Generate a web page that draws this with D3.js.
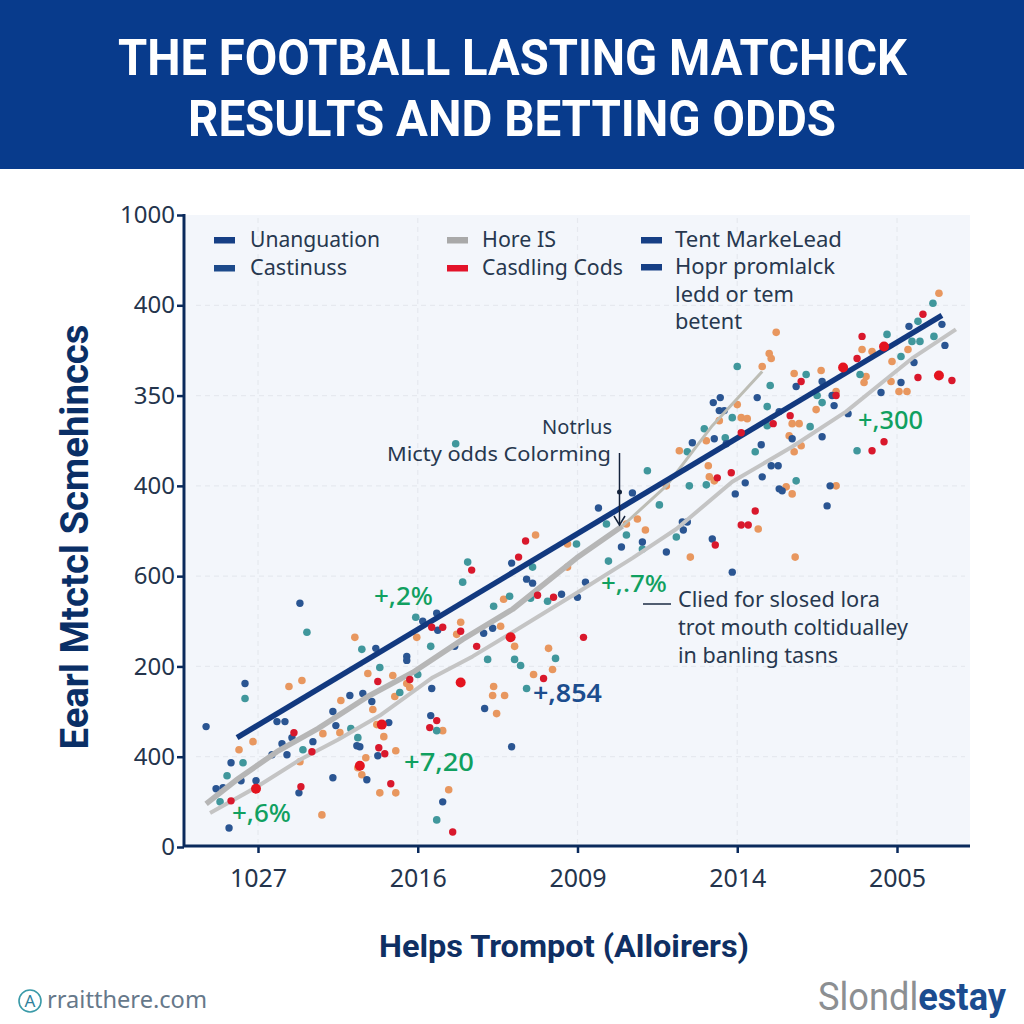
<!DOCTYPE html>
<html><head><meta charset="utf-8">
<script src="https://cdn.jsdelivr.net/npm/d3@7/dist/d3.min.js"></script>
<style>html,body{margin:0;padding:0;background:#fff}svg{display:block}</style>
</head><body><svg id="c" width="1024" height="1024"></svg>
<script>
const xTickLabels=["1027","2016","2009","2014","2005"];
const yTickLabels=["0","400","200","600","400","350","400","1000"];
const titleLines=["THE FOOTBALL LASTING MATCHICK","RESULTS AND BETTING ODDS"];
const yTitle="Eearl Mtctcl Scmehinccs";
const xTitle="Helps Trompot (Alloirers)";
const legendNames=["Unanguation","Castinuss","Hore IS","Casdling Cods","Tent MarkeLead","Hopr promlalck"];
const bluePoints=[[-52,120],[42,243],[-13,163],[19,125],[27,125],[-27,84],[-42,58],[-35,59],[-17,66],[-2,66],[-29,19],[41,54],[75,69],[24,103],[34,109],[55,105],[14,92],[29,92],[92,151],[105,153],[114,145],[75,135],[78,121],[99,101],[102,100],[120,91],[109,67],[131,124],[149,190],[149,186],[118,198],[165,225],[179,233],[180,216],[197,200],[226,213],[235,218],[275,263],[269,267],[304,252],[320,249],[174,158],[173,131],[227,138],[254,100],[185,45],[254,283],[475,274],[455,307],[409,294],[426,316],[385,304],[364,299],[328,264],[688,500],[685,521],[657,483],[644,463],[624,453],[591,432],[577,440],[565,409],[535,407],[504,401],[514,380],[521,380],[505,369],[488,363],[478,352],[522,357],[525,355],[570,340],[573,360],[425,324],[430,324],[375,353],[341,338],[500,448],[456,443],[462,435],[467,435],[463,448],[435,403],[457,407],[469,402],[522,434],[565,464],[575,450],[652,519],[539,459]];
const tealPoints=[[49,214],[-13,148],[-15,84],[-31,71],[45,97],[93,118],[100,109],[104,197],[122,179],[158,229],[173,200],[205,264],[210,284],[142,154],[160,172],[236,240],[252,250],[275,279],[273,248],[290,245],[298,188],[263,181],[257,187],[230,187],[269,158],[179,116],[179,27],[-38,45],[319,302],[198,402],[351,285],[369,311],[385,297],[419,309],[676,542],[661,524],[655,504],[663,504],[677,509],[630,511],[644,489],[603,471],[600,395],[565,443],[553,419],[510,420],[475,428],[447,417],[430,394],[468,408],[498,394],[480,479],[549,471],[513,460],[510,439],[390,375],[402,341],[449,361],[432,360],[539,365],[349,322],[560,450]];
const orangePoints=[[-5,105],[-19,97],[31,160],[44,166],[97,209],[83,146],[65,113],[82,114],[42,85],[64,32],[110,173],[135,171],[137,150],[152,159],[149,163],[159,209],[203,224],[199,212],[243,220],[246,247],[257,200],[291,198],[295,177],[276,172],[236,160],[235,151],[247,151],[239,133],[191,57],[122,54],[138,54],[126,110],[138,96],[108,89],[100,79],[104,72],[115,137],[119,122],[185,116],[310,279],[278,311],[310,302],[433,289],[538,289],[388,316],[501,317],[682,552],[635,484],[634,464],[642,454],[650,454],[651,496],[609,469],[607,463],[605,496],[615,494],[564,475],[537,472],[519,513],[514,487],[512,492],[505,479],[480,441],[484,428],[490,427],[462,425],[422,395],[449,405],[451,380],[452,369],[457,365],[535,422],[542,422],[532,410],[544,400],[537,394],[559,436],[579,454],[529,359],[535,352],[579,360],[380,327],[369,322],[409,360]];
const redPoints=[[36,114],[54,95],[43,60],[-27,46],[120,165],[152,167],[203,215],[219,200],[286,168],[214,276],[261,289],[268,305],[280,251],[296,249],[179,126],[172,119],[121,99],[127,93],[133,63],[195,15],[185,219],[174,219],[458,301],[326,209],[666,531],[605,509],[600,487],[661,468],[695,465],[627,404],[615,395],[484,413],[533,430],[516,422],[544,464],[579,450],[474,373],[460,368],[498,335],[484,321],[491,321]];
const bigRedPoints=[[-2,58],[203,164],[253,209],[124,122],[102,81],[627,499],[586,478],[682,470]];
const navyLine=[[-21,109],[685,530]];
const grayThick=[[-52,43],[-20,68],[19,95],[60,118],[110,150],[155,174],[205,207],[255,237],[319,288],[365,320]];
const grayThin=[[365,320],[409,360],[455,420],[505,474]];
const grayLower=[[-48,34],[-1,60],[42,87],[80,107],[122,131],[175,169],[215,190],[255,214],[322,255],[375,288],[419,317],[475,364],[535,399],[589,434],[635,471],[655,487],[699,516]];

const svg=d3.select("#c");
const F='"Noto Sans",sans-serif', N='"Liberation Sans Narrow","Roboto",sans-serif';
const x=d3.scaleLinear().domain([0,640]).range([258,897]);
const y=d3.scaleLinear().domain([0,630]).range([847,215]);
function T(px,py,s,o={}){
  const t=svg.append("text").attr("x",px).attr("y",py).text(s)
   .attr("font-family",o.font||F).attr("font-size",o.size||21).attr("font-weight",o.weight||400)
   .attr("fill",o.fill||"#27384f").attr("text-anchor",o.anchor||"start");
  if(o.w)t.attr("textLength",o.w).attr("lengthAdjust","spacingAndGlyphs");
  if(o.tr)t.attr("transform",o.tr);
  return t;
}
// header
svg.append("rect").attr("width",1024).attr("height",169).attr("fill","#083b8c");
T(118,75,titleLines[0],{font:N,size:50,weight:700,fill:"#fff",w:789});
T(188,136,titleLines[1],{font:N,size:50,weight:700,fill:"#fff",w:648});
// panel
svg.append("rect").attr("x",186).attr("y",215).attr("width",784).attr("height",631).attr("fill","#f3f6fb");
// grid
const yTicks=d3.range(8).map(i=>i*90), xTicks=d3.range(5).map(i=>i*160);
svg.append("g").selectAll("line").data(yTicks.slice(1,7)).join("line")
 .attr("x1",196).attr("x2",965).attr("y1",d=>y(d)).attr("y2",d=>y(d))
 .attr("stroke","#e6e9ef").attr("stroke-width",1.2).attr("stroke-dasharray","5 4");
svg.append("g").selectAll("line").data(xTicks).join("line")
 .attr("y1",218).attr("y2",843).attr("x1",d=>x(d)).attr("x2",d=>x(d))
 .attr("stroke","#e6e9ef").attr("stroke-width",1.2).attr("stroke-dasharray","5 4");
// dots under lines
function dots(data,fill,r){
  svg.append("g").selectAll("circle").data(data).join("circle")
   .attr("cx",d=>x(d[0])).attr("cy",d=>y(d[1])).attr("r",r).attr("fill",fill);
}
dots(orangePoints,"#e8975f",3.8);
dots(tealPoints,"#40979c",3.8);
dots(bluePoints,"#2a5592",3.7);
// lines
const ln=d3.line().x(d=>x(d[0])).y(d=>y(d[1]));
function path(data,stroke,w){
  svg.append("path").attr("d",ln(data)).attr("fill","none").attr("stroke",stroke)
   .attr("stroke-width",w).attr("stroke-linejoin","round");
}
path(grayLower,"#c4c4c4",4);
path(grayThick,"#b6b6b6",5.5);
path(grayThin,"#bdbdb5",3);
path(navyLine,"#12397f",5.5);
dots(redPoints,"#d9182c",3.7);
dots(bigRedPoints,"#e4141f",5);
// axes
const ya=d3.axisLeft(y).tickValues(yTicks).tickFormat((d,i)=>yTickLabels[i]).tickSize(7).tickPadding(2);
const xa=d3.axisBottom(x).tickValues(xTicks).tickFormat((d,i)=>xTickLabels[i]).tickSize(7).tickPadding(16);
const gy=svg.append("g").attr("transform","translate(184,0)").call(ya);
const gx=svg.append("g").attr("transform","translate(0,846)").call(xa);
[gy,gx].forEach(g=>{
  g.selectAll("path").attr("stroke","#0a2a5c").attr("stroke-width",3);
  g.selectAll("line").attr("stroke","#0a2a5c").attr("stroke-width",2.5);
  g.selectAll("text").attr("font-family",F).attr("fill","#24344c").attr("font-size",24);
});
gy.select("path").attr("d","M0,214V847");
gx.select("path").attr("d","M183,0H970");
gx.selectAll("text").attr("font-size",25);
// legend
const sw=[[214,240,"#163f85"],[214,268,"#1d4a8b"],[447,240,"#a9a9a9"],[447,268,"#e3132a"],[641,240,"#163f85"],[641,267,"#163f85"]];
svg.append("g").selectAll("rect").data(sw).join("rect")
 .attr("x",d=>d[0]).attr("y",d=>d[1]-3).attr("width",21).attr("height",6.5).attr("fill",d=>d[2]);
const lx=[[250,130],[250,97],[482,74],[482,141],[675,167],[675,160]];
legendNames.forEach((n,i)=>T(lx[i][0],sw[i][1]+7,n,{size:21,w:lx[i][1]}));
T(675,302,"ledd or tem",{size:21,w:119});
T(675,329,"betent",{size:21,w:67});
// notes
T(612,434,"Notrlus",{size:20,anchor:"end"});
T(611,461,"Micty odds Colorming",{size:20,anchor:"end",w:224});
T(678,607,"Clied for slosed lora",{size:21,w:202});
T(678,635,"trot mouth coltidualley",{size:21,w:230});
T(678,663,"in banling tasns",{size:21,w:160});
svg.append("line").attr("x1",643).attr("x2",671).attr("y1",604).attr("y2",604).attr("stroke","#27384f").attr("stroke-width",1.6);
svg.append("line").attr("x1",619.5).attr("x2",619.5).attr("y1",453).attr("y2",524).attr("stroke","#14233c").attr("stroke-width",1.5);
svg.append("path").attr("d","M614,516L619.5,525L625,516").attr("fill","none").attr("stroke","#14233c").attr("stroke-width",1.5);
svg.append("circle").attr("cx",619.5).attr("cy",492).attr("r",2.5).attr("fill","#14233c");
// value labels
const G="#10a060";
T(374,605,"+,2%",{size:25,weight:500,fill:G,w:59});
T(601,592,"+,.7%",{size:24,weight:500,fill:G,w:66});
T(858,429,"+,300",{size:25,weight:500,fill:G,w:65});
T(404,771,"+7,20",{size:25,weight:500,fill:G,w:70});
T(232,822,"+,6%",{size:25,weight:500,fill:G,w:59});
T(533,702,"+,854",{size:25,weight:600,fill:"#1c4d8e",w:69});
// titles
T(0,0,yTitle,{font:N,size:38,weight:700,fill:"#0a2f66",anchor:"middle",w:425,tr:"translate(88,537) rotate(-90)"});
T(564,957,xTitle,{font:N,size:32,weight:700,fill:"#0f2f63",anchor:"middle",w:370});
// footer
svg.append("circle").attr("cx",30).attr("cy",1001).attr("r",11).attr("fill","none").attr("stroke","#3a9aa8").attr("stroke-width",1.6);
T(30,1007,"A",{size:17,fill:"#2f7f9c",anchor:"middle"});
T(47,1008,"rraitthere.com",{size:24,fill:"#66788a",w:160});
const brand=T(818,1010,"",{font:N,size:38,w:188});
brand.append("tspan").text("Slondl").attr("fill","#8c8f92");
brand.append("tspan").text("estay").attr("font-weight",700).attr("fill","#1b4c8f");
</script></body></html>
